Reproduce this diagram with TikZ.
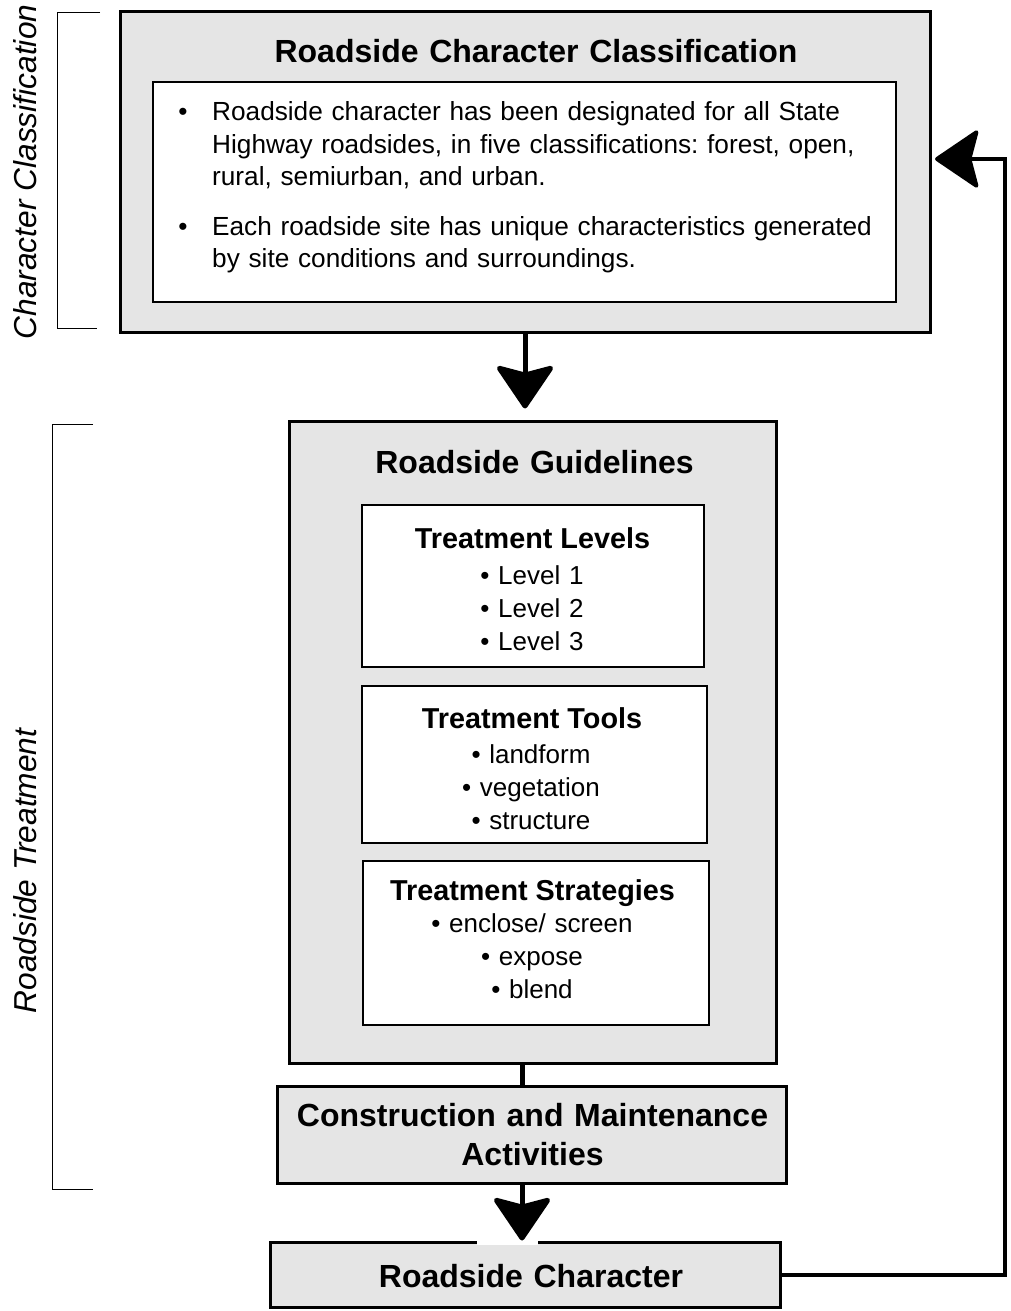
\documentclass[tikz,border=0pt]{standalone}
\usepackage{fontspec}
\setmainfont{Liberation Sans}
\usetikzlibrary{arrows.meta}
\frenchspacing
\begin{document}
\begin{tikzpicture}[x=1pt,y=-1pt,
  graybox/.style={draw, line width=3pt, fill=black!10, inner sep=0pt},
  whitebox/.style={draw, line width=2pt, fill=white, inner sep=0pt},
  conn/.style={line width=5pt},
  bigtip/.style={-{Stealth[length=46pt,width=62pt,inset=8pt,round]}},
  bigtitle/.style={font=\fontsize{32}{39}\selectfont\bfseries, inner sep=0pt, anchor=base, align=center, text width=600pt},
  subtitle/.style={font=\fontsize{28.8}{34}\selectfont\bfseries, inner sep=0pt, anchor=base},
  items/.style={font=\fontsize{26}{33}\selectfont, inner sep=0pt, anchor=base, align=center, text width=320pt},
  body/.style={font=\fontsize{26.2}{32.3}\selectfont, inner sep=0pt, anchor=base west, align=left, text width=760pt},
  bul/.style={font=\fontsize{26.2}{32.3}\selectfont, inner sep=0pt, anchor=base},
  sidelabel/.style={font=\fontsize{31.7}{38}\selectfont\itshape, inner sep=0pt, rotate=90},
  bracket/.style={line width=1pt}
]
\useasboundingbox (0,0) rectangle (1010,1311);

% boxes
\node[graybox, minimum width=810pt, minimum height=320pt] (top) at (525,172) {};
\node[whitebox, minimum width=743pt, minimum height=220pt] (inner) at (524.5,192) {};
\node[graybox, minimum width=487pt, minimum height=642pt] (guide) at (532.5,742) {};
\node[whitebox, minimum width=342pt, minimum height=162pt] (levels) at (533,586) {};
\node[whitebox, minimum width=345pt, minimum height=157pt] (tools) at (534.5,764.5) {};
\node[whitebox, minimum width=346pt, minimum height=164pt] (strat) at (536,943) {};
\node[graybox, minimum width=509pt, minimum height=97pt] (constr) at (531.5,1134.5) {};
\node[graybox, minimum width=510pt, minimum height=65pt] (bot) at (525,1274.5) {};

% texts
\node[bigtitle] (ttop) at (536,63) {Roadside Character Classification};
\node[bul] (b1) at (183,121) {•};
\node[body] (t1) at (212,121) {Roadside character has been designated for all State\\Highway roadsides, in five classifications: forest, open,\\rural, semiurban, and urban.};
\node[bul] (b2) at (183,235) {•};
\node[body] (t2) at (212,235) {Each roadside site has unique characteristics generated\\by site conditions and surroundings.};

\node[bigtitle] (tguide) at (534.5,473) {Roadside Guidelines};
\node[subtitle] (tlev) at (532.5,548) {Treatment Levels};
\node[items] (ilev) at (532,584) {• Level 1\\• Level 2\\• Level 3};
\node[subtitle] (ttools) at (532,728) {Treatment Tools};
\node[items] (itools) at (531,763) {• landform\\• vegetation\\• structure};
\node[subtitle] (tstrat) at (532.5,900) {Treatment Strategies};
\node[items] (istrat) at (532,932) {• enclose/ screen\\• expose\\• blend};

\node[bigtitle] (tconstr) at (532.5,1126) {Construction and Maintenance\\Activities};
\node[bigtitle] (tbot) at (531,1287) {Roadside Character};

% side labels and brackets
\node[sidelabel] (lcc) at (25,172) {Character Classification};
\node[sidelabel] (lrt) at (25,871) {Roadside Treatment};
\draw[bracket] (100,13) -- (57,13) -- (57,328) -- (97,328);
\draw[bracket] (93,424) -- (52,424) -- (52,1189) -- (93,1189);

% connectors
\draw[conn, bigtip, shorten >=11pt] (top.south) -- (top.south |- guide.north);
\draw[conn] ([xshift=-10.5pt]guide.south) -- ([xshift=-10.5pt]guide.south |- constr.north);
\fill[white] (477,1239) rectangle (538,1245);
\draw[conn, bigtip] ([xshift=-9.5pt]constr.south) -- ([xshift=-9.5pt]constr.south |- bot.north);
\coordinate (fbcorner) at (1005,159);
\coordinate (fbtip) at (935,159);
\draw[line width=4pt, bigtip] (bot.east) -| (fbcorner) -- (fbtip);
\end{tikzpicture}
\end{document}
